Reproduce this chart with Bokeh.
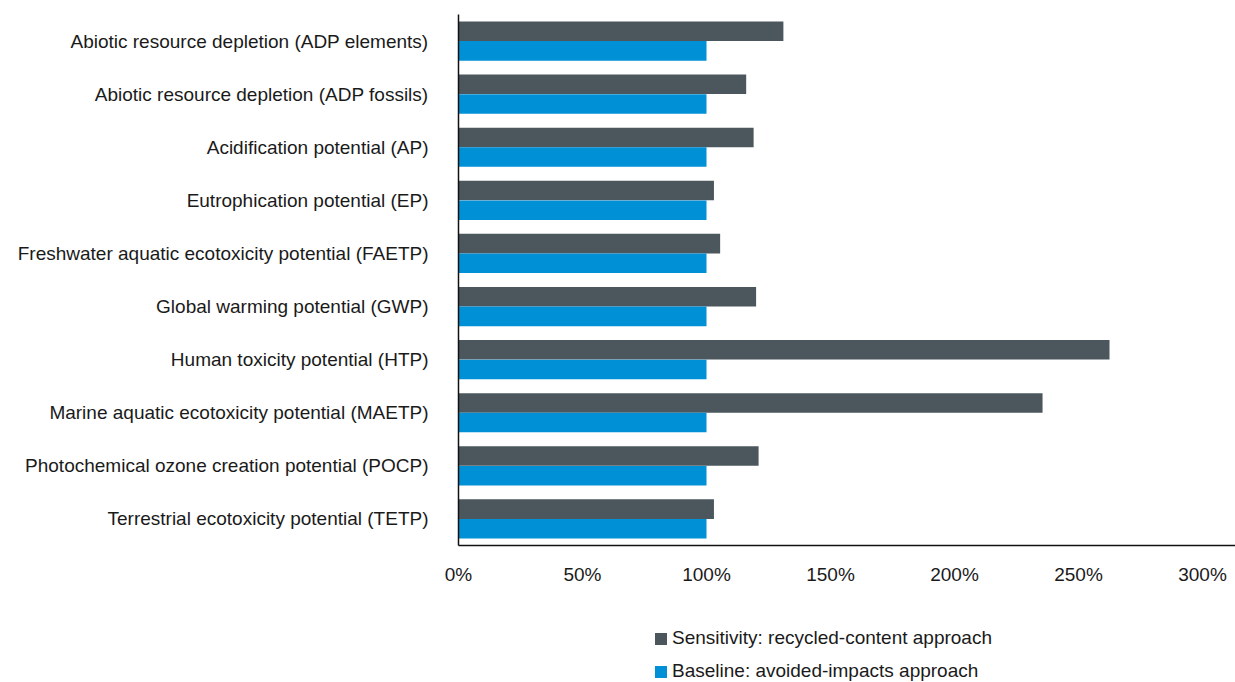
from bokeh.plotting import figure
from bokeh.layouts import column
from bokeh.models import ColumnDataSource, Range1d, FactorRange, FixedTicker, NumeralTickFormatter, Legend, LegendItem
from bokeh.transform import dodge
from bokeh.embed import file_html
from bokeh.resources import INLINE

categories = [
    "Abiotic resource depletion (ADP elements)",
    "Abiotic resource depletion (ADP fossils)",
    "Acidification potential (AP)",
    "Eutrophication potential (EP)",
    "Freshwater aquatic ecotoxicity potential (FAETP)",
    "Global warming potential (GWP)",
    "Human toxicity potential (HTP)",
    "Marine aquatic ecotoxicity potential (MAETP)",
    "Photochemical ozone creation potential (POCP)",
    "Terrestrial ecotoxicity potential (TETP)",
]
sensitivity = [1.31, 1.16, 1.19, 1.03, 1.055, 1.20, 2.625, 2.355, 1.21, 1.03]
baseline = [1.0, 1.0, 1.0, 1.0, 1.0, 1.0, 1.0, 1.0, 1.0, 1.0]
x_ticks = [0, 0.5, 1.0, 1.5, 2.0, 2.5, 3.0]
series_names = ["Sensitivity: recycled-content approach", "Baseline: avoided-impacts approach"]
series_colors = ["#4B575C", "#0090D6"]

font = "Liberation Sans"
fsize = "19px"

src = ColumnDataSource(dict(cat=categories, sens=sensitivity, base=baseline))

p = figure(width=1235, height=600, output_backend="svg", toolbar_location=None,
           y_range=FactorRange(*list(reversed(categories))),
           x_range=Range1d(0, 3.133),
           min_border_left=458, min_border_right=0, min_border_top=14, min_border_bottom=55)
p.outline_line_color = None
p.xgrid.visible = False
p.ygrid.visible = False
p.y_range.range_padding = 0

p.hbar(y=dodge("cat", 0.185, range=p.y_range), right="sens", left=0, height=0.368,
       source=src, fill_color=series_colors[0], line_color=None)
p.hbar(y=dodge("cat", -0.185, range=p.y_range), right="base", left=0, height=0.368,
       source=src, fill_color=series_colors[1], line_color=None)

for ax in (p.xaxis[0], p.yaxis[0]):
    ax.major_tick_line_color = None
    ax.minor_tick_line_color = None
    ax.axis_line_color = "#111111"
    ax.axis_line_width = 1.5
    ax.major_label_text_font = font
    ax.major_label_text_font_size = fsize
    ax.major_label_text_color = "#1a1a1a"

p.xaxis.ticker = FixedTicker(ticks=x_ticks)
p.xaxis.formatter = NumeralTickFormatter(format="0%")
p.xaxis.major_label_standoff = 12
p.yaxis.major_label_standoff = 24

# legend strip below the chart (swatch-only renderers, nothing drawn in its frame)
p2 = figure(width=1235, height=82, output_backend="svg", toolbar_location=None,
            x_range=Range1d(0, 1), y_range=Range1d(0, 1), x_axis_type=None, y_axis_type=None,
            min_border_left=0, min_border_right=0, min_border_top=0, min_border_bottom=0)
p2.outline_line_color = None
p2.xgrid.visible = False
p2.ygrid.visible = False
nan = float("nan")
swatch = ColumnDataSource(dict(y=[nan], right=[nan]))
lr1 = p2.hbar(y="y", right="right", left=0, height=0.1, source=swatch, fill_color=series_colors[0], line_color=None)
lr2 = p2.hbar(y="y", right="right", left=0, height=0.1, source=swatch, fill_color=series_colors[1], line_color=None)

legend = Legend(items=[LegendItem(label=series_names[0], renderers=[lr1]),
                       LegendItem(label=series_names[1], renderers=[lr2])],
                orientation="vertical", location=(195, 0),
                label_text_font=font, label_text_font_size=fsize, label_text_color="#1a1a1a",
                glyph_width=15, glyph_height=15, label_height=20, label_standoff=4, spacing=11,
                padding=0, margin=0, border_line_color=None, background_fill_alpha=0)
p2.add_layout(legend, "center")

open("out.html", "w").write(file_html(column(p, p2, spacing=0), INLINE))
